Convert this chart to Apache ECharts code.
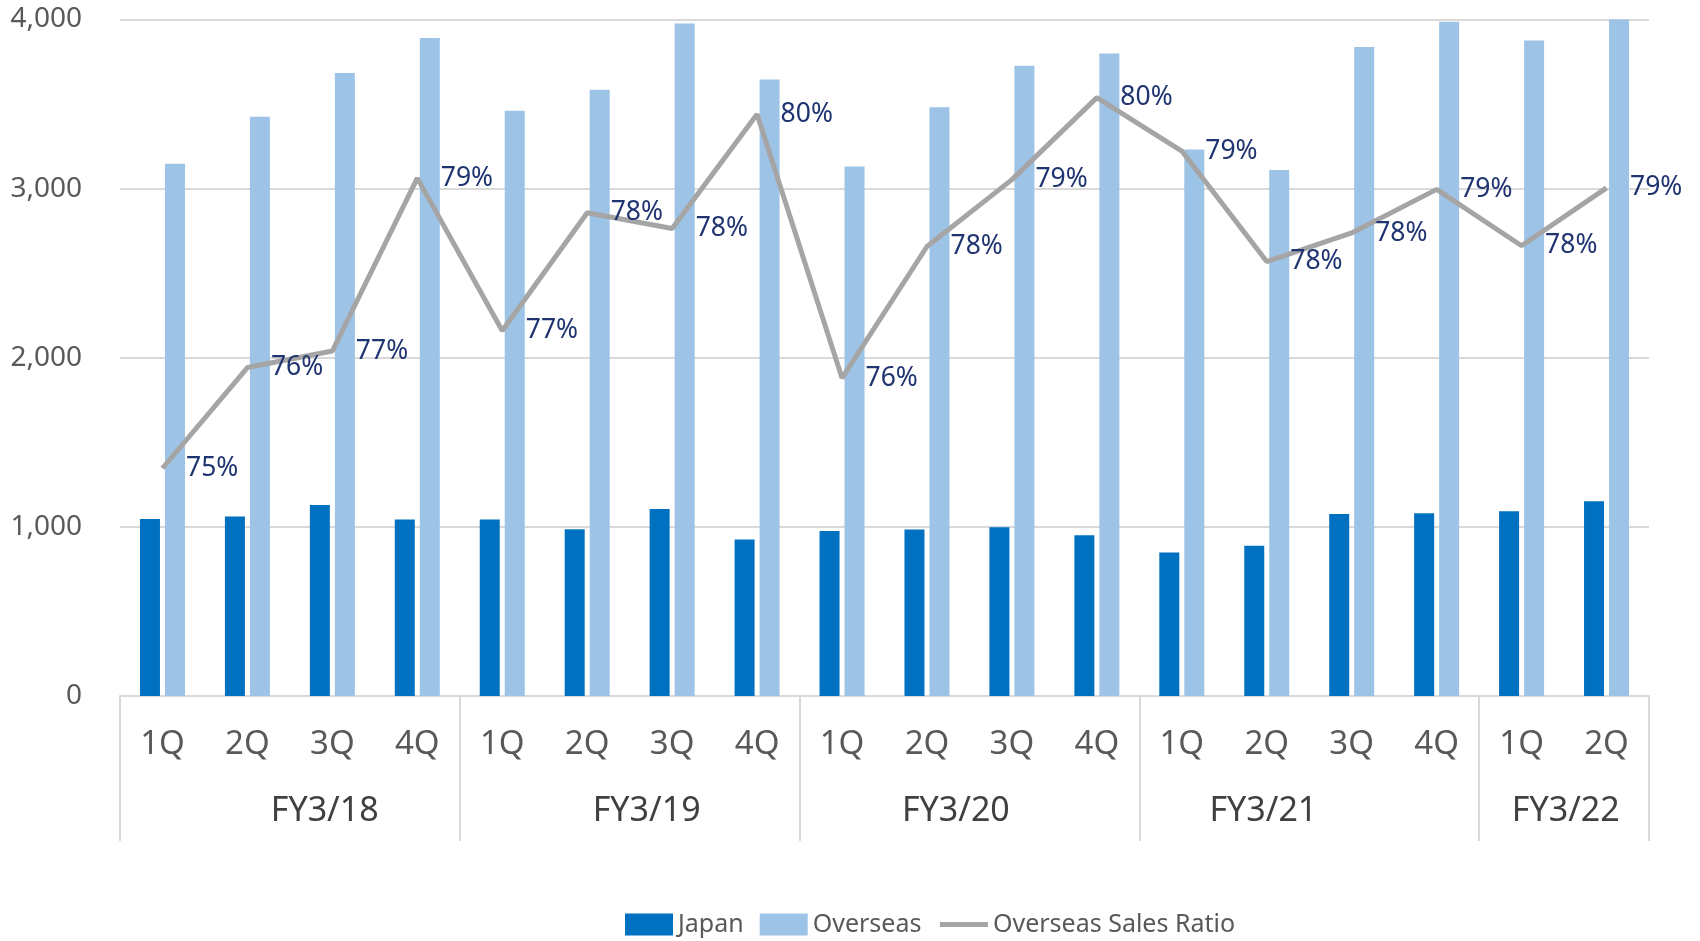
<!DOCTYPE html>
<html>
<head>
<meta charset="utf-8">
<title>Sales by region</title>
<script src="https://cdn.jsdelivr.net/npm/echarts@6/dist/echarts.min.js"></script>
<style>
  html, body { margin: 0; padding: 0; background: #fff; }
  #chart { width: 1700px; height: 941px; }
</style>
</head>
<body>
<div id="chart"></div>
<script>
// quarter labels, fiscal years and how many quarters each year has
const quarters = ['1Q', '2Q', '3Q', '4Q', '1Q', '2Q', '3Q', '4Q', '1Q', '2Q', '3Q', '4Q', '1Q', '2Q', '3Q', '4Q', '1Q', '2Q'];
const years = ['FY3/18', 'FY3/19', 'FY3/20', 'FY3/21', 'FY3/22'];
const quartersPerYear = [4, 4, 4, 4, 2];

// sales (left axis) and overseas ratio (hidden right axis)
const japan = [1047, 1061, 1129, 1043, 1043, 986, 1106, 926, 975, 984, 998, 951, 849, 888, 1076, 1080, 1092, 1151];
const overseas = [3147, 3425, 3684, 3891, 3461, 3585, 3976, 3645, 3131, 3481, 3726, 3799, 3232, 3110, 3838, 3986, 3876, 4270];
const overseasRatio = [0.7503, 0.7637, 0.7659, 0.7889, 0.7686, 0.7843, 0.7822, 0.7974, 0.7623, 0.7798, 0.7887, 0.7996, 0.7925, 0.7778, 0.7816, 0.7874, 0.7799, 0.7876];

const yTicks = [0, 1000, 2000, 3000, 4000];

// group boundaries on the quarter scale: 0,4,8,12,16,18
const yearEdges = [0];
quartersPerYear.forEach(n => yearEdges.push(yearEdges[yearEdges.length - 1] + n));
// where the year names sit (Excel does not centre them exactly)
const yearLabelAt = [2.41, 6.2, 9.84, 13.46, 17.02];

const font = 'Noto Sans';
const grey = '#595959';
const lineCol = '#D9D9D9';

const chart = echarts.init(document.getElementById('chart'));

chart.setOption({
  animation: false,
  textStyle: { fontFamily: font },
  grid: { left: 120, right: 51, top: 19.5, bottom: 245, containLabel: false },
  legend: {
    left: 620,
    top: 907,
    itemWidth: 48,
    itemHeight: 22,
    itemGap: 16,
    textStyle: { fontSize: 25, color: grey, fontFamily: font },
    data: [
      { name: 'Japan', icon: 'rect' },
      { name: 'Overseas', icon: 'rect' },
      { name: 'Overseas Sales Ratio', lineStyle: { width: 5, color: '#A5A5A5' } }
    ]
  },
  xAxis: [
    {
      type: 'category',
      data: quarters,
      axisLine: { show: true, lineStyle: { color: lineCol, width: 2 } },
      axisTick: { show: false },
      axisLabel: { fontSize: 33, color: grey, margin: 32, interval: 0 }
    },
    {
      type: 'value',
      min: 0,
      max: yearEdges[yearEdges.length - 1],
      position: 'bottom',
      splitLine: { show: false },
      axisLine: { show: false },
      axisTick: {
        show: true,
        customValues: yearEdges,
        length: 145,
        lineStyle: { color: lineCol, width: 2 }
      },
      axisLabel: {
        customValues: yearLabelAt,
        fontSize: 34,
        color: '#404040',
        margin: 98,
        formatter: v => years[Math.min(years.length - 1, Math.floor(v / 4))]
      }
    }
  ],
  yAxis: [
    {
      type: 'value',
      min: yTicks[0],
      max: yTicks[yTicks.length - 1],
      interval: 1000,
      axisLine: { show: false },
      axisTick: { show: false },
      axisLabel: { fontSize: 28, color: grey, margin: 38 },
      splitLine: { lineStyle: { color: lineCol, width: 2 } }
    },
    {
      type: 'value',
      min: 0.72,
      max: 0.81,
      show: false,
      splitLine: { show: false }
    }
  ],
  series: [
    {
      name: 'Japan',
      type: 'bar',
      data: japan,
      barWidth: 20,
      barGap: '25%',
      clip: true,
      itemStyle: { color: '#0070C0' }
    },
    {
      name: 'Overseas',
      type: 'bar',
      data: overseas,
      barWidth: 20,
      barGap: '25%',
      clip: true,
      itemStyle: { color: '#9DC3E6' }
    },
    {
      name: 'Overseas Sales Ratio',
      type: 'line',
      yAxisIndex: 1,
      data: overseasRatio,
      symbol: 'circle',
      symbolSize: 1,
      showSymbol: true,
      z: 5,
      lineStyle: { color: '#A5A5A5', width: 5 },
      itemStyle: { color: 'rgba(165,165,165,0)' },
      label: {
        show: true,
        position: 'right',
        distance: 23,
        fontSize: 26.5,
        color: '#1F3470',
        fontFamily: font,
        formatter: p => Math.round(p.value * 100) + '%'
      }
    }
  ]
});
</script>
</body>
</html>
